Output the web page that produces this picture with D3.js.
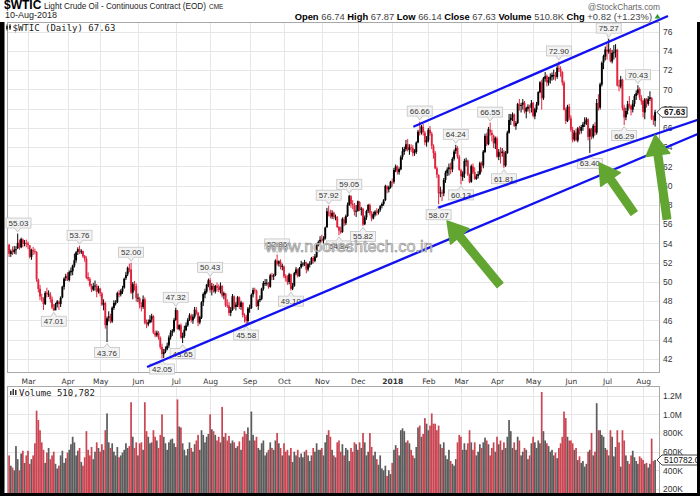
<!DOCTYPE html>
<html><head><meta charset="utf-8">
<script src="https://cdn.jsdelivr.net/npm/d3@7"></script>
<style>html,body{margin:0;padding:0;background:#fff;}svg{display:block;}</style>
</head><body>
<svg id="c" width="700" height="496"></svg>
<script>
// ---- categories / ticks ----
const monthLabels = ["Mar","Apr","May","Jun","Jul","Aug","Sep","Oct","Nov","Dec","2018","Feb","Mar","Apr","May","Jun","Jul","Aug"];
const monthStart  = [11,34,53,75,97,117,140,160,182,203,223,244,263,284,305,327,348,369];
const priceTicks  = [42,44,46,48,50,52,54,56,58,60,62,64,66,68,70,72,74,76];
const volTicks    = [200,400,600,800,1000,1200];
const volTickLabels = ["200K","400K","600K","800K","1.0M","1.2M"];

// ---- daily $WTIC, 13-Feb-2017 .. 10-Aug-2018 (one line per month) ----
const open = [
53.86,52.90,53.25,53.10,53.30,53.50,54.10,53.60,54.40,53.95,54.05,
54.00,53.80,52.60,53.30,53.20,53.10,50.25,49.30,48.40,48.30,47.70,48.90,48.75,48.70,48.20,47.30,47.05,47.70,47.95,47.70,48.40,49.50,50.40,
50.60,50.20,51.00,51.10,51.70,52.25,53.10,53.40,53.10,53.20,52.70,52.40,50.50,50.30,49.60,49.20,49.60,49.60,49.00,
49.30,48.80,47.60,47.80,45.50,46.30,46.40,45.90,47.30,47.80,47.90,48.85,48.70,49.00,49.40,50.40,50.80,51.40,51.30,48.90,49.80,49.60,
48.30,48.30,47.60,47.40,48.20,45.70,45.60,45.80,46.10,46.45,44.70,44.45,44.70,44.20,43.25,42.50,42.75,43.00,43.40,44.25,44.75,44.90,
46.05,47.00,45.10,45.50,44.20,44.40,45.00,45.50,46.10,46.50,46.00,46.40,47.10,46.80,45.80,46.30,47.90,48.70,49.00,49.70,
50.20,49.20,49.60,49.00,49.60,49.40,49.20,49.60,48.60,48.80,47.60,47.55,46.80,47.10,48.50,47.40,47.60,48.40,47.40,47.85,46.55,46.40,45.95,
47.20,47.30,48.70,49.20,49.10,47.50,48.10,48.25,49.30,49.90,49.90,49.90,49.50,50.70,50.55,50.70,52.20,51.90,52.10,51.55,
51.60,50.60,50.40,50.00,50.80,49.30,49.60,50.90,51.30,50.60,51.50,51.90,51.90,52.00,51.30,51.80,51.90,52.50,52.20,52.60,53.90,54.20,
54.40,54.30,54.50,55.70,57.30,57.20,56.80,57.20,56.70,56.70,55.70,55.30,55.20,56.50,56.10,56.85,58.00,58.90,58.10,57.95,57.30,
57.40,58.30,57.50,57.60,56.00,56.70,57.40,58.00,57.10,56.60,57.00,57.30,57.20,57.50,57.90,58.10,58.50,59.90,59.60,59.80,
60.40,60.40,61.60,62.00,61.40,61.70,63.00,63.50,63.80,64.30,63.70,64.00,63.90,63.40,63.50,64.50,65.60,65.50,66.10,65.50,64.50,
64.70,65.80,65.40,64.10,63.40,61.80,61.10,59.20,59.30,59.20,60.60,61.30,61.70,61.90,61.70,62.80,63.60,63.90,63.00,
61.60,60.90,61.20,62.60,62.60,61.10,60.40,62.00,61.40,60.70,61.00,61.20,62.30,62.10,63.50,65.20,64.30,65.80,65.50,65.20,64.40,
64.90,63.00,63.50,63.40,63.50,62.10,63.40,65.50,66.80,67.10,67.40,66.20,66.50,68.50,68.30,68.40,68.60,67.70,68.00,68.20,68.10,
68.60,67.20,67.90,68.40,69.70,70.70,69.10,71.10,71.40,70.70,71.00,71.30,71.50,71.50,71.30,72.20,72.10,71.80,70.70,67.90,66.70,68.20,
67.00,65.80,64.80,65.50,64.70,65.90,65.70,66.10,66.40,66.60,66.90,65.10,65.80,65.10,66.20,65.50,68.60,68.10,70.50,72.80,73.40,
74.10,73.90,74.10,72.90,73.80,73.90,74.10,70.40,70.30,71.00,68.10,67.10,67.80,68.50,68.30,67.90,68.50,69.30,69.60,70.00,69.10,
68.80,67.60,68.90,68.50,69.00,69.10,66.90,66.74];
const high = [
53.95,53.38,53.68,53.74,53.71,55.03,54.41,54.60,54.52,54.35,54.40,
54.19,53.83,53.45,53.63,53.46,53.20,50.36,49.70,48.78,48.40,49.05,49.40,49.13,48.95,48.49,47.72,47.84,48.12,48.05,48.50,49.60,50.48,50.85,
51.00,51.20,51.50,51.80,52.94,53.20,53.60,53.76,53.40,53.25,52.80,52.65,51.00,50.50,49.80,49.90,50.15,49.80,49.60,
49.40,48.95,48.20,47.95,46.40,46.95,46.70,47.45,48.10,48.10,49.00,49.15,49.25,49.60,50.45,51.05,51.60,51.90,52.00,50.00,50.10,49.85,
48.80,48.45,47.90,48.60,48.40,46.10,46.10,46.55,46.70,46.55,44.95,44.95,44.90,44.35,43.60,43.05,43.30,43.70,44.45,45.00,45.10,46.25,
47.32,47.10,45.60,45.70,44.75,45.45,45.80,46.25,46.75,46.70,46.65,47.40,47.40,46.90,46.50,48.00,48.90,49.30,49.80,50.35,
50.43,49.90,49.80,49.70,49.95,49.75,49.95,49.65,49.00,48.85,48.20,47.90,47.40,48.75,48.60,47.90,48.55,48.50,48.05,47.90,46.75,46.60,47.40,
47.65,48.80,49.40,49.40,49.20,48.20,48.60,49.40,50.10,50.30,50.30,50.00,50.85,50.95,50.85,52.35,52.86,52.25,52.35,51.90,
51.70,50.80,50.70,50.95,50.85,49.90,51.05,51.55,51.40,51.55,52.20,52.05,52.30,52.10,51.95,52.15,52.60,52.70,52.90,54.00,54.30,54.75,
54.90,54.75,55.75,57.70,57.92,57.50,57.45,57.30,57.00,56.85,55.80,55.75,56.70,56.75,57.00,58.25,59.05,59.00,58.50,58.20,58.00,
58.45,58.40,57.80,57.70,56.90,57.50,58.10,58.15,57.35,57.30,57.45,57.65,57.60,58.00,58.25,58.60,60.10,60.05,60.00,60.50,
60.74,61.85,62.20,62.10,61.90,63.15,64.00,64.05,64.75,64.85,64.30,64.30,64.20,63.80,64.60,65.80,66.66,66.30,66.40,65.70,65.15,
66.00,66.20,65.60,64.30,63.60,62.00,61.20,59.90,59.60,60.80,61.55,61.90,62.30,62.40,62.95,63.75,64.24,64.10,63.20,
61.75,61.50,62.80,62.90,62.70,61.25,62.20,62.30,61.90,61.20,61.50,62.50,62.50,63.70,65.40,65.50,66.10,66.55,65.80,65.30,65.10,
65.10,63.80,64.00,63.90,63.70,63.60,65.70,67.45,67.45,67.60,67.50,66.70,68.60,69.00,68.60,69.00,68.80,68.20,68.45,68.40,68.90,
68.70,68.10,68.70,69.80,70.85,71.00,71.30,71.80,71.55,71.30,71.65,71.75,72.05,71.80,72.50,72.90,72.40,71.90,70.90,68.10,68.40,68.50,
67.30,66.10,65.75,65.90,66.10,66.20,66.30,66.60,67.10,67.10,67.00,66.00,66.00,66.40,66.60,69.00,69.50,70.70,72.90,73.60,74.45,
74.70,75.27,74.30,74.10,74.60,74.70,74.20,71.00,71.40,71.10,68.40,68.10,68.80,69.30,68.40,68.90,69.50,69.90,70.43,70.20,69.40,
68.90,69.10,69.10,69.30,69.80,69.20,67.30,67.87];
const low = [
52.60,52.60,52.80,52.91,52.85,53.42,53.35,53.50,53.60,53.70,53.60,
53.40,52.45,52.30,52.80,52.86,50.01,48.90,48.11,47.95,47.09,47.60,48.40,48.45,47.86,47.20,47.01,47.10,47.35,47.10,47.40,48.30,49.20,50.10,
50.10,50.05,50.65,50.70,51.50,52.00,52.80,52.90,52.90,52.50,52.10,50.30,50.10,49.50,48.95,49.05,49.10,48.40,48.80,
48.50,47.50,47.05,45.15,43.76,45.90,45.70,45.75,47.10,47.55,47.80,48.40,48.50,48.75,49.30,50.20,50.60,51.00,48.75,48.20,49.10,47.95,
47.90,47.25,46.95,47.20,45.60,45.20,45.40,45.70,45.80,44.60,44.25,44.30,44.00,43.00,42.05,42.10,42.60,42.90,43.15,44.00,44.40,44.75,
45.95,45.05,44.95,44.10,43.65,44.20,44.90,45.35,45.95,45.80,45.65,46.20,46.60,45.40,45.60,46.15,47.50,48.30,48.80,49.45,
48.90,48.60,48.90,48.80,49.00,48.95,48.80,48.40,48.20,47.40,47.30,46.50,46.45,47.00,47.20,47.05,47.40,47.20,47.10,46.30,45.80,45.58,45.70,
46.80,47.20,48.40,48.80,47.40,47.10,47.90,48.10,49.10,49.60,49.60,49.30,49.40,50.20,50.20,50.60,51.70,51.60,51.30,51.20,
50.40,50.05,49.70,49.75,49.10,49.15,49.50,50.70,50.45,50.55,51.40,51.60,51.65,50.90,51.10,51.50,51.80,51.90,52.05,52.50,53.70,54.00,
54.10,54.00,54.40,55.60,56.80,56.60,56.55,56.50,56.40,55.60,54.84,55.00,55.10,55.80,55.90,56.75,57.90,57.70,57.55,56.90,56.75,
57.30,57.35,56.90,55.82,55.90,56.45,57.15,56.90,56.30,56.50,56.80,56.90,57.00,57.30,57.65,57.90,58.40,59.20,59.30,59.70,
59.90,60.20,61.40,61.15,61.15,61.60,62.70,63.20,63.60,63.55,63.20,63.50,63.05,63.10,63.30,64.40,65.20,65.30,65.20,64.20,64.05,
64.50,65.20,63.80,62.80,61.70,60.80,58.07,58.80,58.40,58.90,60.30,61.00,61.05,61.20,61.40,62.60,63.30,62.80,61.55,
60.13,60.50,60.80,62.00,61.00,60.25,60.30,61.20,60.60,60.60,60.75,61.10,61.40,61.80,63.40,64.10,64.20,65.20,64.60,63.90,63.80,
62.90,62.65,62.30,63.00,61.81,61.95,63.30,65.40,66.30,66.70,66.10,65.80,66.40,67.80,67.60,67.90,67.50,67.00,67.70,67.50,67.60,
67.10,66.90,67.60,68.30,69.60,67.90,68.90,70.80,70.30,70.40,70.60,70.90,71.00,70.90,71.10,71.80,71.30,70.40,67.80,66.40,66.60,66.80,
65.60,64.50,64.60,64.60,64.50,65.30,65.40,65.70,66.10,66.30,64.70,63.40,64.80,64.90,65.20,65.30,67.80,67.90,70.30,72.10,73.00,
73.10,73.70,72.80,72.70,73.10,73.30,70.30,69.80,70.10,67.80,66.29,66.80,67.40,68.00,67.30,67.60,68.20,68.90,69.40,68.90,68.40,
67.10,66.90,68.10,68.30,68.80,66.80,66.30,66.14];
const close = [
52.93,53.20,53.11,53.36,53.40,54.06,53.59,54.45,53.99,54.05,54.01,
53.83,52.61,53.33,53.20,53.14,50.28,49.28,48.49,48.40,47.72,48.86,48.75,48.78,48.22,47.34,47.04,47.70,47.97,47.73,48.37,49.51,50.35,50.60,
50.24,51.03,51.15,51.70,52.24,53.08,53.40,53.11,53.18,52.65,52.41,50.44,50.27,49.62,49.23,49.56,49.62,48.97,49.33,
48.84,47.66,47.82,45.52,46.22,46.43,45.88,47.33,47.83,47.84,48.85,48.66,49.07,49.35,50.33,50.73,51.47,51.36,48.90,49.80,49.66,48.32,
48.36,47.66,47.40,48.19,45.72,45.64,45.83,46.08,46.46,44.73,44.46,44.74,44.20,43.23,42.53,42.74,43.01,43.38,44.24,44.74,44.93,46.04,
47.07,45.13,45.52,44.23,44.40,45.04,45.49,46.08,46.54,46.02,46.40,47.12,46.79,45.77,46.34,47.89,48.75,49.04,49.71,50.17,
49.16,49.59,49.03,49.58,49.39,49.17,49.56,48.59,48.82,47.59,47.55,46.78,47.09,48.51,47.37,47.64,48.41,47.43,47.87,46.57,46.44,45.96,47.23,
47.29,48.66,49.16,49.09,47.48,48.07,48.23,49.30,49.89,49.89,49.91,49.48,50.69,50.55,50.66,52.22,51.88,52.14,51.56,51.67,
50.58,50.42,49.98,50.79,49.29,49.58,50.92,51.30,50.60,51.45,51.87,51.88,52.04,51.29,51.84,51.90,52.47,52.18,52.64,53.90,54.15,54.38,
54.30,54.54,55.64,57.35,57.20,56.81,57.17,56.74,56.76,55.70,55.33,55.14,56.55,56.09,56.83,58.02,58.95,58.11,57.99,57.30,57.40,
58.36,57.47,57.62,55.96,56.69,57.36,57.99,57.14,56.60,57.04,57.30,57.16,57.46,57.86,58.09,58.47,59.97,59.64,59.84,60.42,
60.37,61.63,62.01,61.44,61.73,62.96,63.57,63.80,64.30,63.73,63.97,63.95,63.37,63.57,64.47,65.61,65.51,66.14,65.56,64.50,64.73,
65.80,65.45,64.15,63.39,61.79,61.15,59.20,59.29,59.19,60.60,61.34,61.68,61.90,61.68,62.77,63.55,63.91,63.01,61.64,
60.99,61.25,62.57,62.60,61.15,60.37,62.04,61.36,60.71,60.96,61.19,62.34,62.06,63.54,65.17,64.30,65.88,65.55,65.25,64.38,64.94,
63.01,63.51,63.37,63.54,62.06,63.42,65.51,66.82,67.07,67.39,66.22,66.52,68.47,68.29,68.38,68.64,67.70,68.05,68.19,68.10,68.57,
67.25,67.93,68.43,69.72,70.73,69.06,71.14,71.36,70.70,70.96,71.31,71.49,71.49,71.28,72.24,72.13,71.84,70.71,67.88,66.73,68.21,67.04,
65.81,64.75,65.52,64.73,65.95,65.74,66.10,66.36,66.64,66.89,65.06,65.85,65.07,66.22,65.54,68.58,68.08,70.53,72.76,73.45,74.15,
73.94,74.14,72.94,73.80,73.85,74.11,70.38,70.33,71.01,68.06,67.08,67.76,68.46,68.26,67.89,68.52,69.30,69.61,69.99,69.13,68.76,
67.66,68.96,68.49,69.01,69.17,66.94,66.81,67.63];
const volumeK = [
560,450,430,400,660,520,400,580,610,480,560,
610,470,520,560,690,1040,940,830,700,620,480,590,640,520,560,600,470,420,450,560,610,480,530,
590,620,680,760,700,560,610,640,490,450,540,820,620,560,650,520,600,700,640,
600,680,620,830,1010,700,640,690,600,560,650,540,560,590,620,690,640,660,1130,760,640,700,
560,690,700,620,1130,820,760,690,700,830,760,720,640,780,1000,760,690,620,700,730,740,690,
650,1160,870,860,690,620,560,630,700,640,600,680,720,780,620,830,780,700,760,790,
1000,840,820,780,720,760,700,1080,760,800,720,770,690,720,700,640,660,710,620,760,820,790,860,
720,1030,780,720,760,640,620,690,720,560,590,620,700,640,620,720,800,690,640,560,
690,600,620,560,640,490,600,560,620,540,580,540,600,620,560,500,560,640,600,690,620,620,
640,560,700,780,830,760,620,560,540,700,720,600,680,560,640,620,500,640,600,700,680,
620,700,640,800,700,560,600,800,650,560,600,520,460,560,420,400,450,340,400,360,
480,620,670,640,560,830,850,820,700,720,690,620,560,530,650,860,880,760,790,960,900,
830,880,1010,900,900,830,880,680,640,700,560,520,620,500,470,450,520,700,780,
760,620,690,620,690,830,700,620,700,560,600,680,640,700,750,720,680,560,640,700,600,
760,680,720,620,700,640,760,940,820,640,700,620,760,720,560,600,640,620,520,560,690,
760,700,640,720,690,1240,820,720,690,660,600,620,560,590,530,640,690,760,1030,960,760,720,
720,690,620,640,510,550,480,500,440,470,600,620,800,560,600,1120,830,830,780,760,640,
620,560,830,760,550,650,830,700,440,830,720,560,500,470,560,610,540,500,470,550,530,
510,470,480,430,470,740,500,510.782];

// ---- swing labels (text, day index, H=above high / L=below low) ----
const swingText = ["55.03","47.01","53.76","43.76","52.00","42.05","47.32","43.65","50.43","45.58","52.86","49.10","57.92","54.84","59.05","55.82","66.66","58.07","64.24","60.13","66.55","61.81","72.90","63.40","75.27","66.29","70.43"];
const swingIdx  = [5,26,41,57,71,89,97,101,117,138,156,164,186,192,198,206,239,250,260,263,280,288,320,338,349,358,366];
const swingType = ["H","L","H","L","H","L","H","L","H","L","H","L","H","L","H","L","H","L","H","L","H","L","H","L","H","L","H"];

// ---- hand-drawn annotations in (day index, price) ----
const trendLines = [
  [[80.3,41.17],[402.2,65.47]],
  [[249.8,57.71],[402.2,66.92]],
  [[235.3,66.12],[383.5,77.62]]
];
const arrows = [ // [tail, tip]
  [[285.7,49.68],[254.9,56.33]],
  [[363.7,57.16],[343.4,62.35]],
  [[382.9,56.54],[376.0,65.26]]
];

// ---- layout ----
const X0=7, X1=660, PT=22, PB=373, VT=386, VB=493;
const svg = d3.select("#c");
const x  = d3.scaleLinear().domain([0,376]).range([9.1,655.1]);
const y  = d3.scaleLinear().domain([42,76]).range([359,31.6]);
const yv = d3.scaleLinear().domain([200,1200]).range([489,395.7]);
const RED="#e2233d", VRED="#cc4552", VGRAY="#5c5c5c", GRID="#e6e6e6";

svg.append("rect").attr("width",700).attr("height",496).attr("fill","#fff");
const defs = svg.append("defs");
defs.append("clipPath").attr("id","cp").append("rect").attr("x",X0).attr("y",PT).attr("width",X1-X0).attr("height",PB-PT);
defs.append("clipPath").attr("id","cv").append("rect").attr("x",X0).attr("y",VT).attr("width",X1-X0).attr("height",VB-VT);

// grids
const grid = svg.append("g");
grid.selectAll(".hg").data(priceTicks).enter().append("line")
  .attr("x1",X0).attr("x2",X1).attr("y1",d=>Math.round(y(d))+0.5).attr("y2",d=>Math.round(y(d))+0.5).attr("stroke",GRID);
grid.selectAll(".vg").data(monthStart).enter().append("line")
  .attr("x1",d=>Math.round(x(d))+0.5).attr("x2",d=>Math.round(x(d))+0.5).attr("y1",PT).attr("y2",PB).attr("stroke",GRID);
grid.selectAll(".hv").data(volTicks).enter().append("line")
  .attr("x1",X0).attr("x2",X1).attr("y1",d=>Math.round(yv(d))+0.5).attr("y2",d=>Math.round(yv(d))+0.5).attr("stroke",GRID);
grid.selectAll(".vv").data(monthStart).enter().append("line")
  .attr("x1",d=>Math.round(x(d))+0.5).attr("x2",d=>Math.round(x(d))+0.5).attr("y1",VT).attr("y2",VB).attr("stroke",GRID);

// candles
const isUp = i => i===0 ? close[0]>=open[0] : close[i]>=close[i-1];
const idx = d3.range(close.length);
const cg = svg.append("g").attr("clip-path","url(#cp)");
cg.selectAll(".w").data(idx).enter().append("line")
  .attr("x1",i=>x(i)).attr("x2",i=>x(i)).attr("y1",i=>y(high[i])).attr("y2",i=>y(low[i]))
  .attr("stroke",i=>isUp(i)?"#000":RED).attr("stroke-width",1);
cg.selectAll(".b").data(idx).enter().append("rect")
  .attr("x",i=>x(i)-0.95).attr("width",1.9)
  .attr("y",i=>y(Math.max(open[i],close[i])))
  .attr("height",i=>Math.max(0.9,y(Math.min(open[i],close[i]))-y(Math.max(open[i],close[i]))))
  .attr("fill",i=>isUp(i)?"#000":RED);

// volume bars
const vg = svg.append("g").attr("clip-path","url(#cv)");
vg.selectAll("rect").data(idx).enter().append("rect")
  .attr("x",i=>x(i)-0.86).attr("width",1.72)
  .attr("y",i=>yv(volumeK[i])).attr("height",i=>VB-yv(volumeK[i]))
  .attr("fill",i=>isUp(i)?VGRAY:VRED);

// panel borders
svg.append("rect").attr("x",X0+0.5).attr("y",PT+0.5).attr("width",X1-X0-1).attr("height",PB-PT-1).attr("fill","none").attr("stroke","#a8a8a8");
svg.append("rect").attr("x",X0+0.5).attr("y",VT+0.5).attr("width",X1-X0-1).attr("height",VB-VT+4).attr("fill","none").attr("stroke","#a8a8a8");

// axes
const ya = svg.append("g").attr("transform",`translate(${X1},0)`)
  .call(d3.axisRight(y).tickValues(priceTicks).tickSize(0).tickPadding(3).tickFormat(d3.format("d")));
ya.select(".domain").remove();
ya.selectAll("text").attr("font-family","Arial, 'Liberation Sans', sans-serif").attr("font-size","8.5px").attr("fill","#333");
const va = svg.append("g").attr("transform",`translate(${X1},0)`)
  .call(d3.axisRight(yv).tickValues(volTicks).tickSize(0).tickPadding(3).tickFormat((d,k)=>volTickLabels[k]));
va.select(".domain").remove();
va.selectAll("text").attr("font-family","Arial, 'Liberation Sans', sans-serif").attr("font-size","8.5px").attr("fill","#333");
const xa = svg.append("g").attr("transform",`translate(0,${PB})`)
  .call(d3.axisBottom(x).tickValues(monthStart).tickSize(0).tickPadding(6).tickFormat((d,k)=>monthLabels[k]));
xa.select(".domain").remove();
xa.selectAll("text").attr("font-family","'DejaVu Sans', Verdana, sans-serif").attr("font-size","7.5px").attr("fill","#333")
  .attr("font-weight",(d,k)=>monthLabels[k]==="2018"?"bold":"normal");

// swing labels
const lg = svg.append("g");
swingText.forEach((t,k)=>{
  const i=swingIdx[k], hi=swingType[k]==="H";
  const px=x(i), py= hi? y(high[i]) : y(low[i]);
  const bw=25, bh=10;
  const cx=Math.max(X0+bw/2-1, Math.min(X1-bw/2, px));
  const cy= hi? py-10.5 : py+10.5;
  const ey = hi? cy+bh/2 : cy-bh/2;
  const tip = hi? py-1.5 : py+1.5;
  lg.append("path").attr("d",`M${px-3},${ey} L${px},${tip} L${px+3},${ey}`).attr("fill","#f3f3f3").attr("stroke","#b9b9b9").attr("stroke-width",0.8);
  lg.append("rect").attr("x",cx-bw/2).attr("y",cy-bh/2).attr("width",bw).attr("height",bh)
    .attr("fill","#f3f3f3").attr("stroke","#c4c4c4").attr("stroke-width",0.8);
  lg.append("line").attr("x1",px-2.5).attr("x2",px+2.5).attr("y1",ey).attr("y2",ey).attr("stroke","#f3f3f3").attr("stroke-width",1.2);
  lg.append("text").attr("x",cx).attr("y",cy+3).attr("text-anchor","middle")
    .attr("font-family","Arial, 'Liberation Sans', sans-serif").attr("font-size","8px").attr("fill","#333").text(t);
});

// trend lines
svg.append("g").selectAll("line").data(trendLines).enter().append("line")
  .attr("x1",d=>x(d[0][0])).attr("y1",d=>y(d[0][1])).attr("x2",d=>x(d[1][0])).attr("y2",d=>y(d[1][1]))
  .attr("stroke","#1212f0").attr("stroke-width",2.4);

// green arrows
function arrowPts(t,h){
  const sw=7.5, hl=20, hw=12;
  const dx=h[0]-t[0], dy=h[1]-t[1], L=Math.hypot(dx,dy), ux=dx/L, uy=dy/L, nx=-uy, ny=ux;
  const bx=h[0]-ux*hl, by=h[1]-uy*hl;
  return [[t[0]+nx*sw/2,t[1]+ny*sw/2],[bx+nx*sw/2,by+ny*sw/2],[bx+nx*hw,by+ny*hw],h,[bx-nx*hw,by-ny*hw],[bx-nx*sw/2,by-ny*sw/2],[t[0]-nx*sw/2,t[1]-ny*sw/2]];
}
svg.append("g").selectAll("path").data(arrows).enter().append("path")
  .attr("d",d=>"M"+arrowPts([x(d[0][0]),y(d[0][1])],[x(d[1][0]),y(d[1][1])]).map(p=>p.join(",")).join("L")+"Z")
  .attr("fill","#62a631").attr("stroke","#62a631").attr("stroke-width",1.5).attr("stroke-linejoin","round");

// watermark
svg.append("text").attr("x",349).attr("y",252).attr("text-anchor","middle")
  .attr("font-family","Arial, 'Liberation Sans', sans-serif").attr("font-size","16.3px")
  .attr("fill","#e4e4e4").attr("fill-opacity",0.85).attr("stroke","#8a8a8a").attr("stroke-width",0.6)
  .text("www.nooreshtech.co.in");

// last price / volume tags
function tag(yc, w, txt, bold){
  const g=svg.append("g");
  g.append("path").attr("d",`M${X1-3},${yc} L${X1+2},${yc-5} L${X1+2+w},${yc-5} L${X1+2+w},${yc+5} L${X1+2},${yc+5} Z`)
    .attr("fill","#fff").attr("stroke","#333").attr("stroke-width",0.9);
  g.append("text").attr("x",X1+4).attr("y",yc+3.2).attr("font-family","Arial, 'Liberation Sans', sans-serif")
    .attr("font-size","8.5px").attr("font-weight",bold?"bold":"normal").attr("fill","#111").text(txt);
}
tag(y(close[close.length-1]), 25, "67.63", true);
tag(yv(volumeK[volumeK.length-1]), 42, "510782.0", false);

// header
const F="Arial, 'Liberation Sans', sans-serif";
svg.append("text").attr("x",4).attr("y",9).attr("font-family",F).attr("font-weight","bold").attr("font-size","12px").attr("fill","#000").text("$WTIC");
svg.append("text").attr("x",44).attr("y",8.5).attr("font-family",F).attr("font-size","8.2px").attr("fill","#222").text("Light Crude Oil - Continuous Contract (EOD)");
svg.append("text").attr("x",209).attr("y",8.5).attr("font-family",F).attr("font-size","6.5px").attr("fill","#222").text("CME");
svg.append("text").attr("x",5).attr("y",17.5).attr("font-family",F).attr("font-size","9px").attr("fill","#222").text("10-Aug-2018");
svg.append("text").attr("x",660).attr("y",10).attr("text-anchor","end").attr("font-family",F).attr("font-size","8.4px").attr("fill","#666").text("@StockCharts.com");
const hdr = svg.append("text").attr("x",652).attr("y",19.5).attr("text-anchor","end").attr("font-family",F).attr("font-size","9.4px");
[["Open",1],[" 66.74 ",0],["High",1],[" 67.87 ",0],["Low",1],[" 66.14 ",0],["Close",1],[" 67.63 ",0],["Volume",1],[" 510.8K ",0],["Chg",1],[" +0.82 (+1.23%)",0]]
  .forEach(([s,b])=>hdr.append("tspan").attr("font-weight",b?"bold":"normal").attr("fill",b?"#000":"#444").attr("xml:space","preserve").text(s));
svg.append("path").attr("d","M654.5,18.5 L657.5,14 L660.5,18.5 Z").attr("fill","#2e9a2e");

// panel legends
const M="'DejaVu Sans Mono', monospace";
svg.append("g").call(g=>{
  g.append("line").attr("x1",7).attr("x2",7).attr("y1",24.5).attr("y2",30.5).attr("stroke","#333");
  g.append("rect").attr("x",6).attr("y",26).attr("width",2).attr("height",3).attr("fill","#333");
  g.append("line").attr("x1",10).attr("x2",10).attr("y1",24).attr("y2",30).attr("stroke","#333");
  g.append("rect").attr("x",9).attr("y",25.5).attr("width",2).attr("height",3).attr("fill","#333");
});
svg.append("text").attr("x",12.5).attr("y",30.5).attr("font-family",M).attr("font-size","9px").attr("fill","#222").text("$WTIC (Daily) 67.63");
svg.append("g").call(g=>{
  g.append("rect").attr("x",10).attr("y",391).attr("width",1.5).attr("height",4).attr("fill","#333");
  g.append("rect").attr("x",12.5).attr("y",389).attr("width",1.5).attr("height",6).attr("fill","#333");
  g.append("rect").attr("x",15).attr("y",390).attr("width",1.5).attr("height",5).attr("fill","#333");
});
svg.append("text").attr("x",19).attr("y",395.5).attr("font-family",M).attr("font-size","9px").attr("fill","#222").text("Volume 510,782");

// frame
svg.append("rect").attr("x",0).attr("y",22).attr("width",4.5).attr("height",474).attr("fill","#000");
svg.append("rect").attr("x",697).attr("y",22).attr("width",3).attr("height",474).attr("fill","#000");
svg.append("rect").attr("x",0).attr("y",493).attr("width",700).attr("height",3).attr("fill","#000");
</script>
</body></html>
